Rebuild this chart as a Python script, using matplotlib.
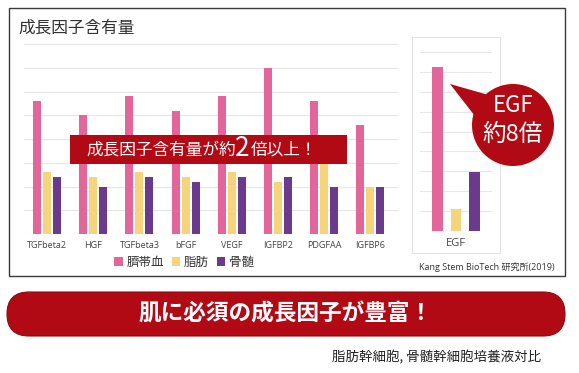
import matplotlib
matplotlib.use('Agg')
import matplotlib.pyplot as plt
import numpy as np
from matplotlib.patches import Rectangle, Circle, Polygon, FancyBboxPatch

plt.rcParams['font.family'] = ['Noto Sans CJK JP', 'DejaVu Sans']

# data (in grid units)
factors = ['TGFbeta2', 'HGF', 'TGFbeta3', 'bFGF', 'VEGF', 'IGFBP2', 'PDGFAA', 'IGFBP6']
cord = [5.6, 5.0, 5.8, 5.2, 5.8, 7.0, 5.6, 4.6]
fat = [2.6, 2.4, 2.6, 2.4, 2.6, 2.2, 3.0, 2.0]
marrow = [2.4, 2.0, 2.4, 2.2, 2.4, 2.4, 2.0, 2.0]
egf_label = ['EGF']
egf_cord = [8.25]
egf_fat = [1.1]
egf_marrow = [2.95]
series_names = ['臍帯血', '脂肪', '骨髄']

PINK = '#e2669a'
YELLOW = '#f6d47c'
PURPLE = '#6b3a8c'
RED = '#b20a14'
W, H = 579, 373

fig = plt.figure(figsize=(W / 100, H / 100), dpi=100)


def px_axes(x0, y0, x1, y1, **kw):
    # axes from pixel box, origin at top-left
    return fig.add_axes([x0 / W, 1 - y1 / H, (x1 - x0) / W, (y1 - y0) / H], **kw)


def grid_style(ax, nmax):
    ax.set_ylim(0, nmax)
    ax.set_yticks(np.arange(0, nmax + 1))
    ax.yaxis.grid(True, color='#e6e6e6', lw=0.8)
    ax.set_axisbelow(True)
    ax.tick_params(axis='y', left=False, labelleft=False)
    ax.tick_params(axis='x', length=0, pad=5, labelsize=6.5, labelcolor='#444')
    for s in ax.spines.values():
        s.set_visible(False)
    ax.patch.set_alpha(0)


# main chart
ax = px_axes(24, 44, 398, 234)
x = np.arange(len(factors))
bw, off = 0.175, 0.216
b1 = ax.bar(x - off, cord, bw, color=PINK)
b2 = ax.bar(x, fat, bw, color=YELLOW)
b3 = ax.bar(x + off, marrow, bw, color=PURPLE)
ax.set_xlim(-0.5, 7.6)
ax.set_xticks(x, factors, family=['Open Sans', 'DejaVu Sans'])
grid_style(ax, 8)

fig.legend([b1, b2, b3], series_names, loc='center', bbox_to_anchor=(184 / W, 1 - 262 / H),
           ncol=3, frameon=False, fontsize=9, handlelength=0.7, handleheight=0.7,
           handletextpad=0.3, columnspacing=0.6, labelcolor='#333')

# EGF panel
ax2 = px_axes(420, 52, 492, 231)
xe = np.arange(len(egf_label))
ax2.bar(xe - 0.257, egf_cord, 0.14, color=PINK)
ax2.bar(xe, egf_fat, 0.14, color=YELLOW)
ax2.bar(xe + 0.257, egf_marrow, 0.14, color=PURPLE)
ax2.set_xlim(-0.5, 0.5)
ax2.set_xticks(xe, egf_label, family=['Open Sans', 'DejaVu Sans'])
grid_style(ax2, 9)
ax2.tick_params(axis='x', labelsize=8)

# overlay in pixel coordinates for the decorations
ov = fig.add_axes([0, 0, 1, 1], zorder=5)
ov.set_xlim(0, W)
ov.set_ylim(H, 0)
ov.axis('off')
ov.patch.set_alpha(0)

ov.add_patch(Rectangle((9, 8), 556, 268, fill=False, ec='#3a3a3a', lw=1.0))
ov.add_patch(Rectangle((412, 37), 88, 216, fill=False, ec='#e4e4e4', lw=0.8))
ov.text(18, 28, '成長因子含有量', fontsize=12, color='#333', va='center', ha='left')

# banner
ov.add_patch(Rectangle((70, 135), 277, 29, color=RED, lw=0))
ov.text(86, 150, '成長因子含有量が約', fontsize=12, color='white', va='center', ha='left')
ov.text(235, 148, '2', fontsize=19, color='white', va='center', ha='left',
        family=['Noto Sans CJK JP', 'DejaVu Sans'])
ov.text(251, 150, '倍以上！', fontsize=12, color='white', va='center', ha='left')

# speech bubble
ov.add_patch(Polygon([(450, 84), (492, 96), (478, 120)], closed=True, color=RED, lw=0))
ov.add_patch(Circle((513, 125), 41, color=RED, lw=0))
ov.text(513, 106, 'EGF', fontsize=16, color='white', ha='center', va='center')
ov.text(513, 134, '約8倍', fontsize=17, color='white', ha='center', va='center')

ov.text(555, 267, 'Kang Stem BioTech 研究所(2019)', fontsize=6.5, color='#333',
        ha='right', va='center', family=['Open Sans', 'Noto Sans CJK JP'])

# bottom pill
ov.add_patch(FancyBboxPatch((7, 292), 558, 44, boxstyle='round,pad=0,rounding_size=22',
                            fc=RED, ec='#8e0a10', lw=0.8, mutation_aspect=1))
ov.text(286, 314, '肌に必須の成長因子が豊富！', fontsize=16.3, fontweight='bold',
        color='white', ha='center', va='center')
ov.text(541, 357, '脂肪幹細胞, 骨髄幹細胞培養液対比', fontsize=9.7, color='#222',
        ha='right', va='center')

fig.savefig('out.png', dpi=100)
